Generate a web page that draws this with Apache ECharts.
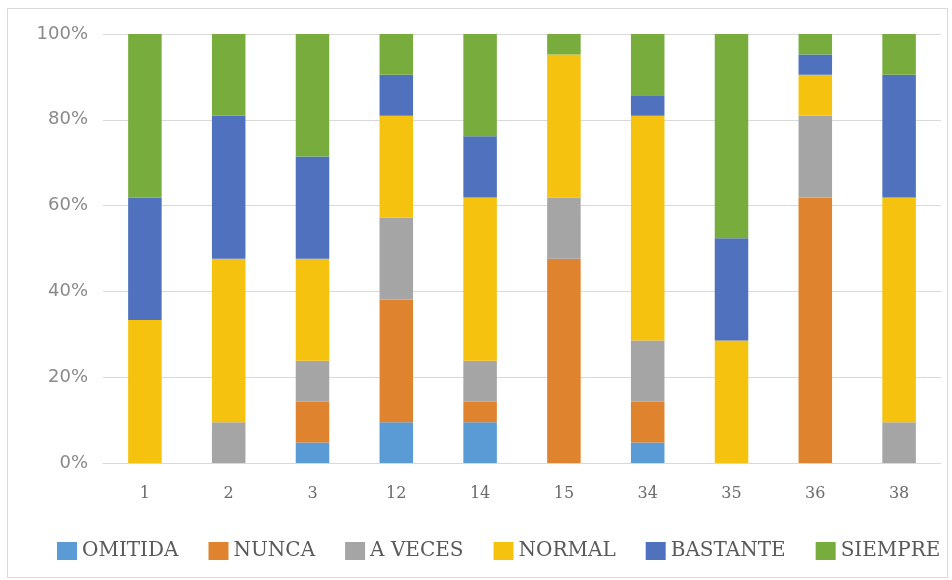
<!DOCTYPE html>
<html style="height: 100%">
<head>
    <meta charset="utf-8">
    <title>Respuestas por pregunta</title>
    <script src="https://cdn.jsdelivr.net/npm/echarts@6/dist/echarts.min.js"></script>
</head>
<body style="height: 100%; margin: 0; background: #fff">
    <div id="container" style="width: 952px; height: 580px"></div>
    <script type="text/javascript">
        // preguntas (eje x)
        var preguntas = ['1', '2', '3', '12', '14', '15', '34', '35', '36', '38'];
        // número de respuestas por categoría (21 por pregunta)
        var omitida  = [0, 0, 1, 2, 2, 0, 1, 0, 0, 0];
        var nunca    = [0, 0, 2, 6, 1, 10, 2, 0, 13, 0];
        var aVeces   = [0, 2, 2, 4, 2, 3, 3, 0, 4, 2];
        var normal   = [7, 8, 5, 5, 8, 7, 11, 6, 2, 11];
        var bastante = [6, 7, 5, 2, 3, 0, 1, 5, 1, 6];
        var siempre  = [8, 4, 6, 2, 5, 1, 3, 10, 1, 2];
        var yTicks = [0, 20, 40, 60, 80, 100];

        var dom = document.getElementById('container');
        var myChart = echarts.init(dom);

        var grupos = [
            { name: 'OMITIDA', data: omitida, color: '#5B9BD5' },
            { name: 'NUNCA', data: nunca, color: '#E0832F' },
            { name: 'A VECES', data: aVeces, color: '#A5A5A5' },
            { name: 'NORMAL', data: normal, color: '#F4C20F' },
            { name: 'BASTANTE', data: bastante, color: '#4F71BE' },
            { name: 'SIEMPRE', data: siempre, color: '#78AD3E' }
        ];

        // total de cada columna para pasar a porcentaje
        var totales = preguntas.map(function (p, i) {
            return grupos.reduce(function (s, g) { return s + g.data[i]; }, 0);
        });

        var series = grupos.map(function (g) {
            return {
                name: g.name,
                type: 'bar',
                stack: 'total',
                barWidth: '40%',
                itemStyle: { color: g.color },
                data: g.data.map(function (v, i) { return v / totales[i] * 100; })
            };
        });

        var option = {
            animation: false,
            graphic: [{
                type: 'rect',
                shape: { x: 7.5, y: 8.5, width: 940, height: 569 },
                style: { fill: 'none', stroke: '#d9d9d9', lineWidth: 1 },
                silent: true
            }],
            grid: { left: 103, right: 11, top: 34, bottom: 117 },
            legend: {
                left: 52,
                top: 536,
                itemWidth: 20,
                itemHeight: 18,
                itemGap: 30,
                icon: 'rect',
                textStyle: { fontFamily: 'DejaVu Serif', fontSize: 20, color: '#595959' },
                data: grupos.map(function (g) { return g.name; })
            },
            xAxis: {
                type: 'category',
                data: preguntas,
                axisLine: { lineStyle: { color: '#d9d9d9' } },
                axisTick: { show: false },
                axisLabel: { fontFamily: 'DejaVu Serif', fontSize: 16, color: '#6b6b6b', margin: 23 }
            },
            yAxis: {
                type: 'value',
                min: yTicks[0],
                max: yTicks[yTicks.length - 1],
                interval: 20,
                axisLine: { show: false },
                axisTick: { show: false },
                splitLine: { lineStyle: { color: '#d9d9d9' } },
                axisLabel: { fontFamily: 'DejaVu Sans', fontSize: 18, color: '#8a8a8a', margin: 15, formatter: '{value}%' }
            },
            series: series
        };

        myChart.setOption(option);
    </script>
</body>
</html>
